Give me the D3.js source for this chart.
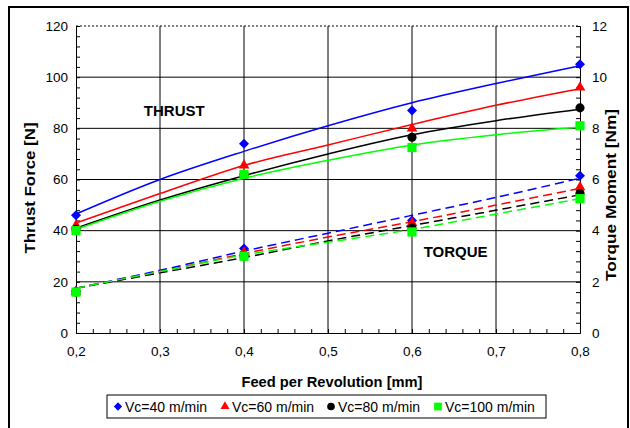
<!DOCTYPE html>
<html>
<head>
<meta charset="utf-8">
<script src="https://cdn.jsdelivr.net/npm/d3@7"></script>
<style>
body { margin: 0; background: #fff; }
text { font-family: "Liberation Sans", Arial, sans-serif; }
</style>
</head>
<body>
<svg id="chart" width="630" height="428"></svg>
<script>
// measured points
var feed = [0.2, 0.4, 0.6, 0.8];
var thrust40 = [46, 74, 87, 105];
var thrust60 = [42, 65.5, 80, 96];
var thrust80 = [40.5, 62, 76.5, 88];
var thrust100 = [40, 62, 72.5, 81];
var torque40 = [1.65, 3.3, 4.4, 6.15];
var torque60 = [1.6, 3.15, 4.3, 5.7];
var torque80 = [1.6, 3.0, 4.1, 5.45];
var torque100 = [1.6, 3.0, 3.95, 5.25];

// trend lines
var fitFeed = [0.2, 0.3, 0.4, 0.5, 0.6, 0.7, 0.8];
var thrustFit40 = [46.5, 60, 71, 81, 90, 97.5, 104.5];
var thrustFit60 = [43, 54.5, 65.5, 73.5, 81.5, 89, 95.5];
var thrustFit80 = [41, 52, 61.5, 70, 77.5, 83, 87.5];
var thrustFit100 = [40.5, 51.5, 60.5, 67.5, 73.5, 77.5, 80.5];
var torqueFit40 = [1.75, 2.45, 3.2, 3.9, 4.6, 5.3, 6.05];
var torqueFit60 = [1.75, 2.4, 3.1, 3.75, 4.35, 5.0, 5.65];
var torqueFit80 = [1.75, 2.35, 2.95, 3.6, 4.2, 4.8, 5.4];
var torqueFit100 = [1.75, 2.4, 3.05, 3.55, 4.05, 4.65, 5.25];

var seriesNames = ["Vc=40 m/min", "Vc=60 m/min", "Vc=80 m/min", "Vc=100 m/min"];
var xTicks = [0.2, 0.3, 0.4, 0.5, 0.6, 0.7, 0.8];
var yTicks = [0, 20, 40, 60, 80, 100, 120];
var y2Ticks = [0, 2, 4, 6, 8, 10, 12];

var colors = ["#0000ff", "#ff0000", "#000000", "#00ff00"];
var symbols = [d3.symbolSquare, d3.symbolTriangle, d3.symbolCircle, d3.symbolSquare];
var symSizes = [50, 50, 66, 85];
var symRot = [45, 0, 0, 0];

var svg = d3.select("#chart");
var pLeft = 76, pRight = 580, pTop = 26, pBottom = 333;

var x = d3.scaleLinear().domain([0.2, 0.8]).range([pLeft, pRight]);
var y = d3.scaleLinear().domain([0, 120]).range([pBottom, pTop]);
var y2 = d3.scaleLinear().domain([0, 12]).range([pBottom, pTop]);

// outer frame
svg.append("rect").attr("x", 9).attr("y", 7).attr("width", 619).attr("height", 440)
  .attr("fill", "none").attr("stroke", "#000").attr("stroke-width", 2);

// grid
svg.append("g").selectAll("line").data(yTicks.slice(1, -1)).join("line")
  .attr("x1", pLeft).attr("x2", pRight).attr("y1", d => y(d)).attr("y2", d => y(d))
  .attr("stroke", "#000").attr("stroke-width", 1);
svg.append("g").selectAll("line").data(xTicks.slice(1, -1)).join("line")
  .attr("y1", pTop).attr("y2", pBottom).attr("x1", d => x(d)).attr("x2", d => x(d))
  .attr("stroke", "#000").attr("stroke-width", 1);
svg.append("line").attr("x1", pLeft).attr("x2", pRight).attr("y1", pTop).attr("y2", pTop)
  .attr("stroke", "#000").attr("stroke-dasharray", "2,2");

// axes with minor ticks pointing inward
var fmt = d3.format(".1f");
svg.append("g").attr("transform", "translate(" + pLeft + ",0)")
  .call(d3.axisLeft(y).tickValues(d3.range(0, 121, 4)).tickSize(-4).tickFormat(""));
svg.append("g").attr("transform", "translate(" + pRight + ",0)")
  .call(d3.axisRight(y2).tickValues(d3.range(0, 12.01, 0.4)).tickSize(-4).tickFormat(""));
svg.append("g").attr("transform", "translate(0," + pBottom + ")")
  .call(d3.axisBottom(x).tickValues(d3.range(0.2, 0.801, 0.02)).tickSize(-4).tickFormat(""));

// tick labels
svg.append("g").attr("transform", "translate(" + (pLeft - 8) + ",0)")
  .call(d3.axisLeft(y).tickValues(yTicks).tickSize(0).tickPadding(0))
  .call(g => g.select(".domain").remove())
  .selectAll("text").attr("font-size", 13.5).attr("font-family", "Liberation Sans, Arial");
svg.append("g").attr("transform", "translate(" + (pRight + 12) + ",0)")
  .call(d3.axisRight(y2).tickValues(y2Ticks).tickSize(0).tickPadding(0))
  .call(g => g.select(".domain").remove())
  .selectAll("text").attr("font-size", 13.5).attr("font-family", "Liberation Sans, Arial");
svg.append("g").attr("transform", "translate(0," + (pBottom + 13) + ")")
  .call(d3.axisBottom(x).tickValues(xTicks).tickSize(0).tickPadding(0)
    .tickFormat(d => fmt(d).replace(".", ",")))
  .call(g => g.select(".domain").remove())
  .selectAll("text").attr("font-size", 13.5).attr("font-family", "Liberation Sans, Arial");

// axis titles
svg.append("text").attr("transform", "translate(35,188) rotate(-90)")
  .attr("text-anchor", "middle").attr("font-size", 14).attr("font-weight", "bold")
  .attr("textLength", 131).attr("lengthAdjust", "spacingAndGlyphs")
  .text("Thrust Force [N]");
svg.append("text").attr("transform", "translate(616,195) rotate(-90)")
  .attr("text-anchor", "middle").attr("font-size", 14).attr("font-weight", "bold")
  .attr("textLength", 172).attr("lengthAdjust", "spacingAndGlyphs")
  .text("Torque Moment [Nm]");
svg.append("text").attr("x", 332).attr("y", 387)
  .attr("text-anchor", "middle").attr("font-size", 14).attr("font-weight", "bold")
  .attr("textLength", 181).attr("lengthAdjust", "spacingAndGlyphs")
  .text("Feed per Revolution [mm]");

svg.append("text").attr("x", x(0.317)).attr("y", 116).attr("text-anchor", "middle")
  .attr("font-size", 15).attr("font-weight", "bold").text("THRUST");
svg.append("text").attr("x", x(0.652)).attr("y", 257).attr("text-anchor", "middle")
  .attr("font-size", 15).attr("font-weight", "bold").text("TORQUE");

// trend lines
var thrustFits = [thrustFit40, thrustFit60, thrustFit80, thrustFit100];
var torqueFits = [torqueFit40, torqueFit60, torqueFit80, torqueFit100];
var thrustPts = [thrust40, thrust60, thrust80, thrust100];
var torquePts = [torque40, torque60, torque80, torque100];

var lineT = d3.line().x((d, i) => x(fitFeed[i])).y(d => y(d)).curve(d3.curveCatmullRom);
var lineQ = d3.line().x((d, i) => x(fitFeed[i])).y(d => y2(d)).curve(d3.curveCatmullRom);

thrustFits.forEach(function(s, k) {
  svg.append("path").datum(s).attr("d", lineT).attr("fill", "none")
    .attr("stroke", colors[k]).attr("stroke-width", 1.5);
});
torqueFits.forEach(function(s, k) {
  svg.append("path").datum(s).attr("d", lineQ).attr("fill", "none")
    .attr("stroke", colors[k]).attr("stroke-width", 1.5).attr("stroke-dasharray", "9,5");
});

// markers
function marker(sel, k) {
  sel.attr("d", d3.symbol().type(symbols[k]).size(symSizes[k])).attr("fill", colors[k]);
}
thrustPts.forEach(function(s, k) {
  svg.append("g").selectAll("path").data(s).join("path")
    .attr("transform", (d, i) => "translate(" + x(feed[i]) + "," + y(d) + ") rotate(" + symRot[k] + ")")
    .call(marker, k);
});
torquePts.forEach(function(s, k) {
  svg.append("g").selectAll("path").data(s).join("path")
    .attr("transform", (d, i) => "translate(" + x(feed[i]) + "," + y2(d) + ") rotate(" + symRot[k] + ")")
    .call(marker, k);
});

// legend
var lg = svg.append("g");
lg.append("rect").attr("x", 107).attr("y", 395).attr("width", 439).attr("height", 23)
  .attr("fill", "#fff").attr("stroke", "#000").attr("stroke-width", 1);
var legX = [118, 225, 331, 438];
seriesNames.forEach(function(n, k) {
  lg.append("path").attr("transform", "translate(" + legX[k] + ",406.5) rotate(" + symRot[k] + ")")
    .attr("d", d3.symbol().type(symbols[k]).size(symSizes[k] * 0.7)).attr("fill", colors[k]);
  lg.append("text").attr("x", legX[k] + 7).attr("y", 411.5).attr("font-size", 14).text(n);
});
</script>
</body>
</html>
